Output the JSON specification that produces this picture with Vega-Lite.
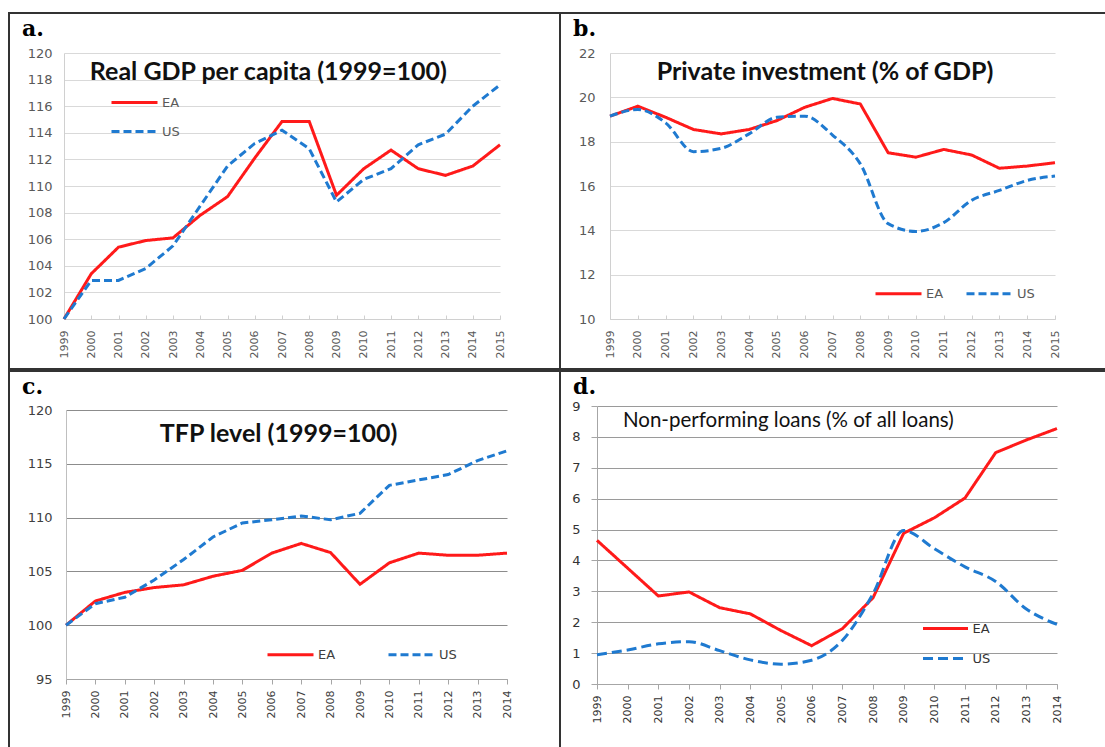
{
  "$schema": "https://vega.github.io/schema/vega-lite/v6.json",
  "padding": {"left": 8, "top": 12, "right": 0, "bottom": 0},
  "background": "white",
  "datasets": {
    "gdp": [
      {"year": 1999, "series": "EA", "value": 100.0}, {"year": 2000, "series": "EA", "value": 103.4}, {"year": 2001, "series": "EA", "value": 105.4}, {"year": 2002, "series": "EA", "value": 105.9}, {"year": 2003, "series": "EA", "value": 106.1}, {"year": 2004, "series": "EA", "value": 107.8}, {"year": 2005, "series": "EA", "value": 109.2}, {"year": 2006, "series": "EA", "value": 112.1}, {"year": 2007, "series": "EA", "value": 114.85}, {"year": 2008, "series": "EA", "value": 114.85}, {"year": 2009, "series": "EA", "value": 109.3}, {"year": 2010, "series": "EA", "value": 111.3}, {"year": 2011, "series": "EA", "value": 112.7}, {"year": 2012, "series": "EA", "value": 111.3}, {"year": 2013, "series": "EA", "value": 110.8}, {"year": 2014, "series": "EA", "value": 111.5}, {"year": 2015, "series": "EA", "value": 113.1},
      {"year": 1999, "series": "US", "value": 100.0}, {"year": 2000, "series": "US", "value": 102.9}, {"year": 2001, "series": "US", "value": 102.9}, {"year": 2002, "series": "US", "value": 103.8}, {"year": 2003, "series": "US", "value": 105.5}, {"year": 2004, "series": "US", "value": 108.5}, {"year": 2005, "series": "US", "value": 111.5}, {"year": 2006, "series": "US", "value": 113.2}, {"year": 2007, "series": "US", "value": 114.2}, {"year": 2008, "series": "US", "value": 112.8}, {"year": 2009, "series": "US", "value": 108.8}, {"year": 2010, "series": "US", "value": 110.5}, {"year": 2011, "series": "US", "value": 111.3}, {"year": 2012, "series": "US", "value": 113.1}, {"year": 2013, "series": "US", "value": 113.9}, {"year": 2014, "series": "US", "value": 116.0}, {"year": 2015, "series": "US", "value": 117.6}
    ],
    "inv": [
      {"year": 1999, "series": "EA", "value": 19.15}, {"year": 2000, "series": "EA", "value": 19.6}, {"year": 2001, "series": "EA", "value": 19.1}, {"year": 2002, "series": "EA", "value": 18.55}, {"year": 2003, "series": "EA", "value": 18.35}, {"year": 2004, "series": "EA", "value": 18.55}, {"year": 2005, "series": "EA", "value": 18.95}, {"year": 2006, "series": "EA", "value": 19.55}, {"year": 2007, "series": "EA", "value": 19.95}, {"year": 2008, "series": "EA", "value": 19.7}, {"year": 2009, "series": "EA", "value": 17.5}, {"year": 2010, "series": "EA", "value": 17.3}, {"year": 2011, "series": "EA", "value": 17.65}, {"year": 2012, "series": "EA", "value": 17.4}, {"year": 2013, "series": "EA", "value": 16.8}, {"year": 2014, "series": "EA", "value": 16.9}, {"year": 2015, "series": "EA", "value": 17.05},
      {"year": 1999, "series": "US", "value": 19.15}, {"year": 2000, "series": "US", "value": 19.45}, {"year": 2001, "series": "US", "value": 18.85}, {"year": 2002, "series": "US", "value": 17.55}, {"year": 2003, "series": "US", "value": 17.7}, {"year": 2004, "series": "US", "value": 18.35}, {"year": 2005, "series": "US", "value": 19.1}, {"year": 2006, "series": "US", "value": 19.15}, {"year": 2007, "series": "US", "value": 18.3}, {"year": 2008, "series": "US", "value": 17.0}, {"year": 2009, "series": "US", "value": 14.3}, {"year": 2010, "series": "US", "value": 13.95}, {"year": 2011, "series": "US", "value": 14.35}, {"year": 2012, "series": "US", "value": 15.35}, {"year": 2013, "series": "US", "value": 15.8}, {"year": 2014, "series": "US", "value": 16.25}, {"year": 2015, "series": "US", "value": 16.45}
    ],
    "tfp": [
      {"year": 1999, "series": "EA", "value": 100.0}, {"year": 2000, "series": "EA", "value": 102.25}, {"year": 2001, "series": "EA", "value": 103.05}, {"year": 2002, "series": "EA", "value": 103.5}, {"year": 2003, "series": "EA", "value": 103.75}, {"year": 2004, "series": "EA", "value": 104.55}, {"year": 2005, "series": "EA", "value": 105.1}, {"year": 2006, "series": "EA", "value": 106.7}, {"year": 2007, "series": "EA", "value": 107.6}, {"year": 2008, "series": "EA", "value": 106.75}, {"year": 2009, "series": "EA", "value": 103.8}, {"year": 2010, "series": "EA", "value": 105.8}, {"year": 2011, "series": "EA", "value": 106.7}, {"year": 2012, "series": "EA", "value": 106.5}, {"year": 2013, "series": "EA", "value": 106.5}, {"year": 2014, "series": "EA", "value": 106.7},
      {"year": 1999, "series": "US", "value": 100.0}, {"year": 2000, "series": "US", "value": 102.0}, {"year": 2001, "series": "US", "value": 102.6}, {"year": 2002, "series": "US", "value": 104.2}, {"year": 2003, "series": "US", "value": 106.1}, {"year": 2004, "series": "US", "value": 108.2}, {"year": 2005, "series": "US", "value": 109.5}, {"year": 2006, "series": "US", "value": 109.8}, {"year": 2007, "series": "US", "value": 110.15}, {"year": 2008, "series": "US", "value": 109.8}, {"year": 2009, "series": "US", "value": 110.4}, {"year": 2010, "series": "US", "value": 113.0}, {"year": 2011, "series": "US", "value": 113.5}, {"year": 2012, "series": "US", "value": 114.0}, {"year": 2013, "series": "US", "value": 115.3}, {"year": 2014, "series": "US", "value": 116.2}
    ],
    "npl": [
      {"year": 1999, "series": "EA", "value": 4.65}, {"year": 2000, "series": "EA", "value": 3.75}, {"year": 2001, "series": "EA", "value": 2.85}, {"year": 2002, "series": "EA", "value": 2.98}, {"year": 2003, "series": "EA", "value": 2.47}, {"year": 2004, "series": "EA", "value": 2.27}, {"year": 2005, "series": "EA", "value": 1.73}, {"year": 2006, "series": "EA", "value": 1.24}, {"year": 2007, "series": "EA", "value": 1.79}, {"year": 2008, "series": "EA", "value": 2.79}, {"year": 2009, "series": "EA", "value": 4.88}, {"year": 2010, "series": "EA", "value": 5.38}, {"year": 2011, "series": "EA", "value": 6.02}, {"year": 2012, "series": "EA", "value": 7.49}, {"year": 2013, "series": "EA", "value": 7.9}, {"year": 2014, "series": "EA", "value": 8.27},
      {"year": 1999, "series": "US", "value": 0.95}, {"year": 2000, "series": "US", "value": 1.1}, {"year": 2001, "series": "US", "value": 1.3}, {"year": 2002, "series": "US", "value": 1.37}, {"year": 2003, "series": "US", "value": 1.08}, {"year": 2004, "series": "US", "value": 0.78}, {"year": 2005, "series": "US", "value": 0.64}, {"year": 2006, "series": "US", "value": 0.77}, {"year": 2007, "series": "US", "value": 1.41}, {"year": 2008, "series": "US", "value": 2.92}, {"year": 2009, "series": "US", "value": 4.97}, {"year": 2010, "series": "US", "value": 4.38}, {"year": 2011, "series": "US", "value": 3.79}, {"year": 2012, "series": "US", "value": 3.32}, {"year": 2013, "series": "US", "value": 2.43}, {"year": 2014, "series": "US", "value": 1.93}
    ]
  },
  "config": {
    "view": {"stroke": "#333333", "strokeWidth": 2},
    "title": {"font": "DejaVu Serif", "fontWeight": "bold", "fontSize": 22, "anchor": "start", "frame": "group", "color": "#000000"},
    "axis": {"labelFont": "DejaVu Sans", "title": null, "labelFlush": false, "labelOverlap": false, "tickCount": 40, "format": "d"},
    "legend": {"title": null, "symbolType": "stroke", "symbolSize": 2116, "symbolStrokeWidth": 3, "labelFont": "DejaVu Sans", "labelFontSize": 13, "labelOffset": 3, "padding": 0, "orient": "none"}
  },
  "vconcat": [
    {
      "hconcat": [
        {
          "width": 551, "height": 356,
          "title": {"text": "a.", "offset": -28, "dx": 13},
          "layer": [
            {
              "data": {"name": "gdp"},
              "transform": [{"filter": "datum.series == 'EA'"}],
              "mark": {"type": "line", "strokeWidth": 3},
              "encoding": {
                "x": {"field": "year", "type": "quantitative", "scale": {"domain": [1999, 2015], "range": [55, 491], "nice": false, "zero": false},
                  "axis": {"values": [1999,2000,2001,2002,2003,2004,2005,2006,2007,2008,2009,2010,2011,2012,2013,2014,2015], "tickCount": 40, "format": "d", "labelAngle": 270, "labelFontSize": 11, "labelColor": "#595959", "labelOverlap": false, "tickSize": -4, "tickColor": "#d0d0d0", "domainColor": "#d0d0d0", "labelPadding": 15, "grid": false, "offset": -50}},
                "y": {"field": "value", "type": "quantitative", "scale": {"domain": [100, 120], "range": [306, 40], "nice": false, "zero": false},
                  "axis": {"values": [100,102,104,106,108,110,112,114,116,118,120], "tickCount": 40, "format": "d", "labelFontSize": 13, "labelColor": "#595959", "labelOverlap": false, "ticks": false, "labelPadding": 12, "gridColor": "#d9d9d9", "domainColor": "#d0d0d0", "offset": -55}},
                "color": {"field": "series", "type": "nominal", "scale": {"domain": ["EA", "US"], "range": ["#ff1a1a", "#1f7ad0"]}, "legend": {"legendX": 106, "legendY": 70, "direction": "vertical", "symbolType": "M-1.278,0H1.278", "symbolSize": 1296, "labelOffset": 8, "labelColor": "#595959"}},
                "strokeDash": {"field": "series", "type": "nominal", "scale": {"domain": ["EA", "US"], "range": [[1, 0], [8, 4]]}, "legend": {"legendX": 106, "legendY": 70, "direction": "vertical", "symbolType": "M-1.278,0H1.278", "symbolSize": 1296, "labelOffset": 8, "labelColor": "#595959"}}
              }
            },
            {
              "data": {"name": "gdp"},
              "transform": [{"filter": "datum.series == 'US'"}],
              "mark": {"type": "line", "strokeWidth": 3},
              "encoding": {
                "x": {"field": "year", "type": "quantitative"},
                "y": {"field": "value", "type": "quantitative"},
                "color": {"field": "series", "type": "nominal"},
                "strokeDash": {"field": "series", "type": "nominal"}
              }
            },
            {
              "data": {"values": [{"label": "Real GDP per capita (1999=100)"}]},
              "mark": {"type": "text", "font": "Lato", "fontWeight": "bold", "fontSize": 25, "color": "#111111", "align": "center", "baseline": "middle"},
              "encoding": {
                "x": {"datum": 2006.5, "type": "quantitative"},
                "y": {"datum": 118.6, "type": "quantitative"},
                "text": {"field": "label"}
              }
            }
          ]
        },
        {
          "width": 550, "height": 356,
          "title": {"text": "b.", "offset": -28, "dx": 13},
          "layer": [
            {
              "data": {"name": "inv"},
              "transform": [{"filter": "datum.series == 'EA'"}],
              "mark": {"type": "line", "strokeWidth": 3},
              "encoding": {
                "x": {"field": "year", "type": "quantitative", "scale": {"domain": [1999, 2015], "range": [50, 495], "nice": false, "zero": false},
                  "axis": {"values": [1999,2000,2001,2002,2003,2004,2005,2006,2007,2008,2009,2010,2011,2012,2013,2014,2015], "tickCount": 40, "format": "d", "labelAngle": 270, "labelFontSize": 11, "labelColor": "#595959", "labelOverlap": false, "tickSize": -4, "tickColor": "#d0d0d0", "domainColor": "#d0d0d0", "labelPadding": 15, "grid": false, "offset": -50}},
                "y": {"field": "value", "type": "quantitative", "scale": {"domain": [10, 22], "range": [306, 40], "nice": false, "zero": false},
                  "axis": {"values": [10,12,14,16,18,20,22], "tickCount": 40, "format": "d", "labelFontSize": 13, "labelColor": "#595959", "labelOverlap": false, "ticks": false, "labelPadding": 15, "gridColor": "#d9d9d9", "domainColor": "#d0d0d0", "offset": -50}},
                "color": {"field": "series", "type": "nominal", "scale": {"domain": ["EA", "US"], "range": ["#ff1a1a", "#1f7ad0"]}, "legend": {"legendX": 314, "legendY": 256, "direction": "horizontal", "columnPadding": 16, "labelColor": "#595959"}},
                "strokeDash": {"field": "series", "type": "nominal", "scale": {"domain": ["EA", "US"], "range": [[1, 0], [8, 4]]}, "legend": {"legendX": 314, "legendY": 256, "direction": "horizontal", "columnPadding": 16, "labelColor": "#595959"}}
              }
            },
            {
              "data": {"name": "inv"},
              "transform": [{"filter": "datum.series == 'US'"}],
              "mark": {"type": "line", "strokeWidth": 3, "interpolate": "monotone"},
              "encoding": {
                "x": {"field": "year", "type": "quantitative"},
                "y": {"field": "value", "type": "quantitative"},
                "color": {"field": "series", "type": "nominal"},
                "strokeDash": {"field": "series", "type": "nominal"}
              }
            },
            {
              "data": {"values": [{"label": "Private investment (% of GDP)"}]},
              "mark": {"type": "text", "font": "Lato", "fontWeight": "bold", "fontSize": 25, "color": "#111111", "align": "center", "baseline": "middle"},
              "encoding": {
                "x": {"datum": 2006.73, "type": "quantitative"},
                "y": {"datum": 21.14, "type": "quantitative"},
                "text": {"field": "label"}
              }
            }
          ]
        }
      ],
      "spacing": 0,
      "bounds": "flush",
      "resolve": {"scale": {"color": "independent", "strokeDash": "independent"}, "legend": {"color": "independent", "strokeDash": "independent"}}
    },
    {
      "hconcat": [
        {
          "width": 551, "height": 382,
          "title": {"text": "c.", "offset": -28, "dx": 13},
          "layer": [
            {
              "data": {"name": "tfp"},
              "transform": [{"filter": "datum.series == 'EA'"}],
              "mark": {"type": "line", "strokeWidth": 3},
              "encoding": {
                "x": {"field": "year", "type": "quantitative", "scale": {"domain": [1999, 2014], "range": [57, 498], "nice": false, "zero": false},
                  "axis": {"values": [1999,2000,2001,2002,2003,2004,2005,2006,2007,2008,2009,2010,2011,2012,2013,2014], "tickCount": 40, "format": "d", "labelAngle": 270, "labelFontSize": 11, "labelColor": "#404040", "labelOverlap": false, "tickSize": 5, "tickColor": "#a6a6a6", "domainColor": "#a6a6a6", "labelPadding": 6, "grid": false, "offset": -74}},
                "y": {"field": "value", "type": "quantitative", "scale": {"domain": [95, 120], "range": [308, 39], "nice": false, "zero": false},
                  "axis": {"values": [95,100,105,110,115,120], "tickCount": 40, "format": "d", "labelFontSize": 13, "labelColor": "#404040", "labelOverlap": false, "ticks": false, "labelPadding": 14, "gridColor": "#8c8c8c", "domainColor": "#bfbfbf", "offset": -57}},
                "color": {"field": "series", "type": "nominal", "scale": {"domain": ["EA", "US"], "range": ["#ff1a1a", "#1f7ad0"]}, "legend": {"legendX": 257, "legendY": 259, "direction": "horizontal", "columnPadding": 46, "labelColor": "#404040"}},
                "strokeDash": {"field": "series", "type": "nominal", "scale": {"domain": ["EA", "US"], "range": [[1, 0], [8, 4]]}, "legend": {"legendX": 257, "legendY": 259, "direction": "horizontal", "columnPadding": 46, "labelColor": "#404040"}}
              }
            },
            {
              "data": {"name": "tfp"},
              "transform": [{"filter": "datum.series == 'US'"}],
              "mark": {"type": "line", "strokeWidth": 3},
              "encoding": {
                "x": {"field": "year", "type": "quantitative"},
                "y": {"field": "value", "type": "quantitative"},
                "color": {"field": "series", "type": "nominal"},
                "strokeDash": {"field": "series", "type": "nominal"}
              }
            },
            {
              "data": {"values": [{"label": "TFP level (1999=100)"}]},
              "mark": {"type": "text", "font": "Lato", "fontWeight": "bold", "fontSize": 25, "color": "#111111", "align": "center", "baseline": "middle"},
              "encoding": {
                "x": {"datum": 2006.23, "type": "quantitative"},
                "y": {"datum": 117.77, "type": "quantitative"},
                "text": {"field": "label"}
              }
            }
          ]
        },
        {
          "width": 550, "height": 382,
          "title": {"text": "d.", "offset": -28, "dx": 13},
          "layer": [
            {
              "data": {"name": "npl"},
              "transform": [{"filter": "datum.series == 'EA'"}],
              "mark": {"type": "line", "strokeWidth": 3},
              "encoding": {
                "x": {"field": "year", "type": "quantitative", "scale": {"domain": [1999, 2014], "range": [37, 497], "nice": false, "zero": false},
                  "axis": {"values": [1999,2000,2001,2002,2003,2004,2005,2006,2007,2008,2009,2010,2011,2012,2013,2014], "tickCount": 40, "format": "d", "labelAngle": 270, "labelFontSize": 11, "labelColor": "#333333", "labelOverlap": false, "tickSize": 5, "tickColor": "#a6a6a6", "domainColor": "#a6a6a6", "labelPadding": 6, "grid": false, "offset": -69}},
                "y": {"field": "value", "type": "quantitative", "scale": {"domain": [0, 9], "range": [313, 35], "nice": false, "zero": false},
                  "axis": {"values": [0,1,2,3,4,5,6,7,8,9], "tickCount": 40, "format": "d", "labelFontSize": 13, "labelColor": "#333333", "labelOverlap": false, "ticks": true, "tickSize": 6, "tickColor": "#a6a6a6", "labelPadding": 11, "gridColor": "#9a9a9a", "domainColor": "#a6a6a6", "offset": -37}},
                "color": {"field": "series", "type": "nominal", "scale": {"domain": ["EA", "US"], "range": ["#ff1a1a", "#1f7ad0"]}, "legend": {"legendX": 365, "legendY": 237, "direction": "vertical", "symbolType": "M-1.184,0H1.184", "symbolSize": 1444, "labelOffset": 6.5, "labelColor": "#333333"}},
                "strokeDash": {"field": "series", "type": "nominal", "scale": {"domain": ["EA", "US"], "range": [[1, 0], [10, 5]]}, "legend": {"legendX": 365, "legendY": 237, "direction": "vertical", "symbolType": "M-1.184,0H1.184", "symbolSize": 1444, "labelOffset": 6.5, "labelColor": "#333333"}}
              }
            },
            {
              "data": {"name": "npl"},
              "transform": [{"filter": "datum.series == 'US'"}],
              "mark": {"type": "line", "strokeWidth": 3, "interpolate": "monotone"},
              "encoding": {
                "x": {"field": "year", "type": "quantitative"},
                "y": {"field": "value", "type": "quantitative"},
                "color": {"field": "series", "type": "nominal"},
                "strokeDash": {"field": "series", "type": "nominal"}
              }
            },
            {
              "data": {"values": [{"label": "Non-performing  loans (% of all loans)"}]},
              "mark": {"type": "text", "font": "Lato", "fontSize": 20.5, "color": "#111111", "align": "center", "baseline": "middle"},
              "encoding": {
                "x": {"datum": 2005.24, "type": "quantitative"},
                "y": {"datum": 8.51, "type": "quantitative"},
                "text": {"field": "label"}
              }
            }
          ]
        }
      ],
      "spacing": 0,
      "bounds": "flush",
      "resolve": {"scale": {"color": "independent", "strokeDash": "independent"}, "legend": {"color": "independent", "strokeDash": "independent"}}
    }
  ],
  "spacing": 0,
  "resolve": {"scale": {"color": "independent", "strokeDash": "independent"}, "legend": {"color": "independent", "strokeDash": "independent"}}
}
